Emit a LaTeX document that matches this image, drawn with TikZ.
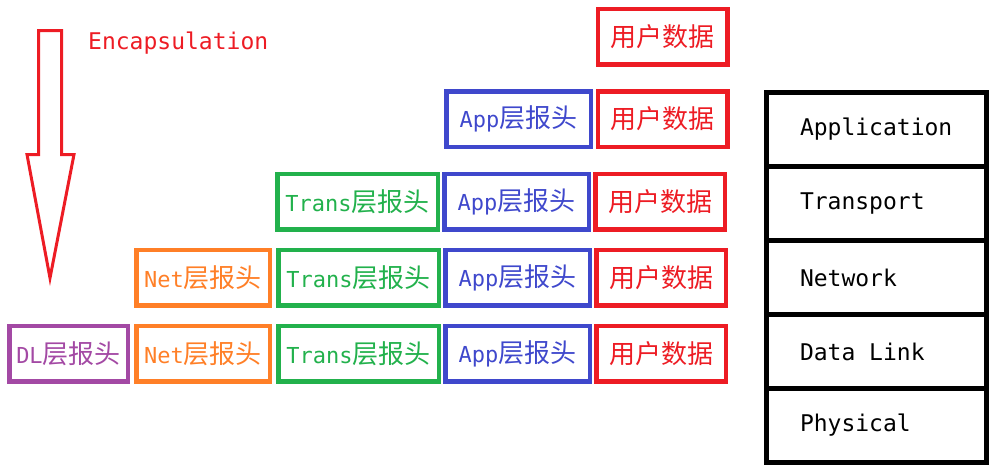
\documentclass[tikz,border=0pt]{standalone}
\usepackage{fontspec}
\setmonofont{DejaVu Sans Mono}
\newfontfamily\cjk{Noto Sans CJK SC}
\usetikzlibrary{shapes}
\definecolor{pred}{HTML}{ED1C24}
\definecolor{pblue}{HTML}{3F48CC}
\definecolor{pgreen}{HTML}{22B14C}
\definecolor{porange}{HTML}{FF7F27}
\definecolor{ppurple}{HTML}{A349A4}
\newcommand{\hdrtext}[2]{{\ttfamily\fontsize{22}{26}\selectfont #1}{\cjk\fontsize{26}{30}\selectfont #2}}
\newcommand{\layertext}[1]{{\ttfamily\fontsize{23}{27}\selectfont #1}}

\begin{document}
\begin{tikzpicture}[x=1pt,y=-1pt]
		\tikzstyle{every node}+=[inner sep=0pt]
		\tikzstyle{pdu}=[draw, line width=4.5pt, minimum height=55.5pt]
		\tikzstyle{databox}=[pdu, pred, minimum width=129.5pt]
		\tikzstyle{appbox}=[pdu, pblue, minimum width=144.5pt]
		\tikzstyle{transbox}=[pdu, pgreen, minimum width=160.5pt]
		\tikzstyle{netbox}=[pdu, porange, minimum width=133.5pt]
		\tikzstyle{dlbox}=[pdu, ppurple, minimum width=118.5pt]
		\tikzstyle{layer}=[draw, black, line width=5pt, minimum height=74pt, text width=153pt, align=left, inner xsep=33.5pt]
		\useasboundingbox (0,0) rectangle (996,472);
		\draw [pred, line width=3pt, miter limit=20] (38.5,30.5) -- (61.5,30.5) -- (61.5,154.5) -- (74,154.5) -- (50,278) -- (27,154.5) -- (38.5,154.5) -- cycle;
		\draw (88,43) node[anchor=west, pred] (enc) {\layertext{Encapsulation}};
		\draw (662.5,36.5) node[databox] (d1) {\hdrtext{}{用户数据}};
		\draw (518.5,119) node[appbox] (a2) {\hdrtext{App}{层报头}};
		\draw (662.5,119) node[databox] (d2) {\hdrtext{}{用户数据}};
		\draw (357.5,201.5) node[transbox] (t3) {\hdrtext{Trans}{层报头}};
		\draw (516.5,201.5) node[appbox] (a3) {\hdrtext{App}{层报头}};
		\draw (660,201.5) node[databox] (d3) {\hdrtext{}{用户数据}};
		\draw (203,277.5) node[netbox] (n4) {\hdrtext{Net}{层报头}};
		\draw (358.5,277.5) node[transbox] (t4) {\hdrtext{Trans}{层报头}};
		\draw (517.5,277.5) node[appbox] (a4) {\hdrtext{App}{层报头}};
		\draw (661,277.5) node[databox] (d4) {\hdrtext{}{用户数据}};
		\draw (68.5,353.5) node[dlbox] (l5) {\hdrtext{DL}{层报头}};
		\draw (203,353.5) node[netbox] (n5) {\hdrtext{Net}{层报头}};
		\draw (358.5,353.5) node[transbox] (t5) {\hdrtext{Trans}{层报头}};
		\draw (517.5,353.5) node[appbox] (a5) {\hdrtext{App}{层报头}};
		\draw (661,353.5) node[databox] (d5) {\hdrtext{}{用户数据}};
		\draw (876.5,129.5) node[layer] (app) {\layertext{Application}};
		\draw (876.5,203.5) node[layer] (trans) {\layertext{Transport}};
		\draw (876.5,277.5) node[layer] (net) {\layertext{Network}};
		\draw (876.5,351.5) node[layer] (link) {\layertext{Data\hspace{0.602em}Link}};
		\draw (876.5,425.5) node[layer] (phys) {\layertext{Physical}};
\end{tikzpicture}
\end{document}
